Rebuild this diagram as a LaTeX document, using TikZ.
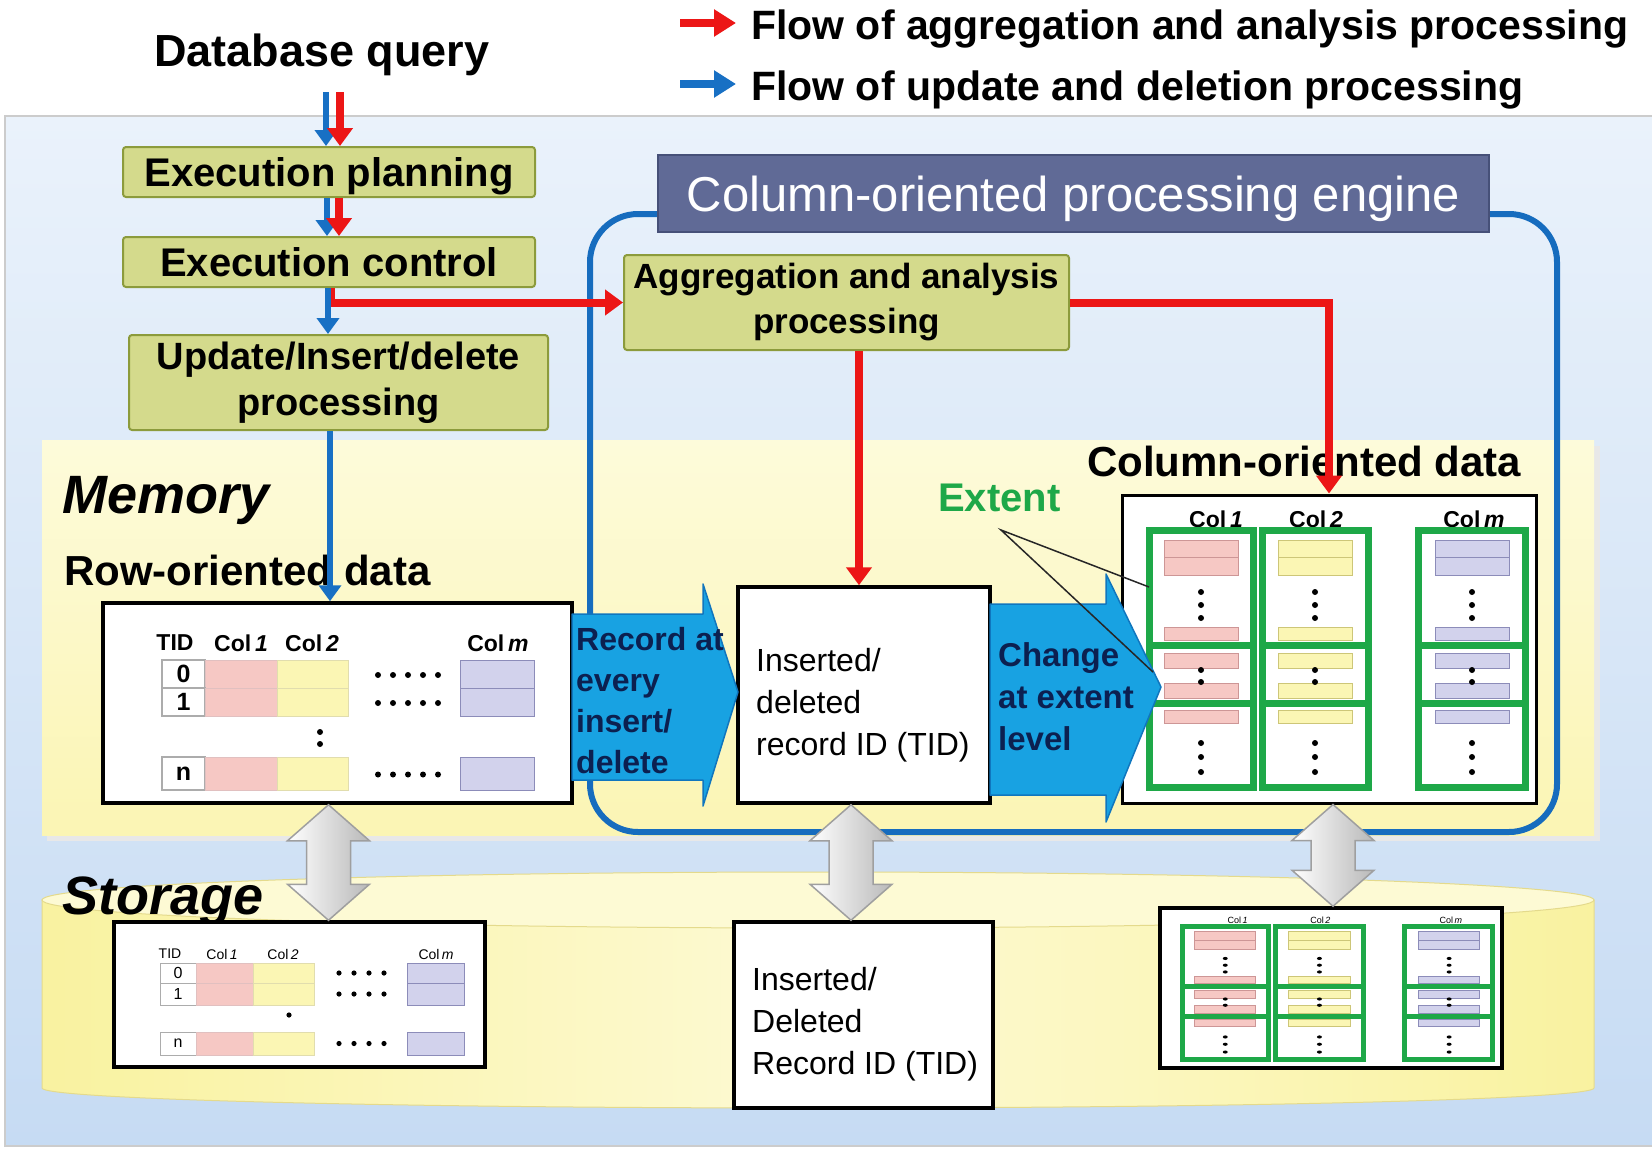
\documentclass[tikz,border=0pt]{standalone}
\usepackage{fontspec}
\setmainfont{Liberation Sans}
\usetikzlibrary{arrows.meta,calc}
\definecolor{olive}{RGB}{212,218,140}
\definecolor{oliveb}{RGB}{140,155,60}
\definecolor{hdr}{RGB}{96,106,150}
\definecolor{hdrb}{RGB}{70,80,120}
\definecolor{eng}{RGB}{22,108,190}
\definecolor{flowred}{RGB}{236,22,22}
\definecolor{flowblue}{RGB}{24,112,196}
\definecolor{cyanar}{RGB}{24,162,226}
\definecolor{cyanarb}{RGB}{16,118,190}
\definecolor{navy}{RGB}{12,32,80}
\definecolor{pinkc}{RGB}{246,200,196}
\definecolor{pinkb}{RGB}{205,150,150}
\definecolor{yelc}{RGB}{251,246,180}
\definecolor{yelb}{RGB}{205,198,120}
\definecolor{lavc}{RGB}{210,210,236}
\definecolor{lavb}{RGB}{140,140,185}
\definecolor{extgreen}{RGB}{30,168,72}
\definecolor{bgtop}{RGB}{234,242,251}
\definecolor{bgbot}{RGB}{198,219,243}
\definecolor{memtop}{RGB}{253,251,218}
\definecolor{membot}{RGB}{251,245,180}
\definecolor{cylbody}{RGB}{249,242,160}
\definecolor{cyltop}{RGB}{253,250,212}
\definecolor{cylb}{RGB}{228,218,140}
\tikzset{
  olivebox/.style={draw=oliveb, line width=2pt, fill=olive, rounded corners=3pt, inner sep=0pt},
  whitebox/.style={draw=black, line width=3.5pt, fill=white, inner sep=0pt},
  redflow/.style={draw=flowred, line width=8pt, -{Triangle[length=18pt,width=25pt]}},
  blueflow/.style={draw=flowblue, line width=6.5pt, -{Triangle[length=16pt,width=22pt]}},
  engline/.style={draw=eng, line width=6pt},
  cyanarrow/.style={fill=cyanar, draw=cyanarb, line width=1.5pt, line join=round},
  dblarr/.style={left color=white, right color=gray!55, draw=gray!75, line width=1.5pt},
  lbl/.style={inner sep=0pt, anchor=base west},
  tabh/.style={inner sep=0pt, font=\bfseries\fontsize{23}{23}\selectfont},
  stabh/.style={inner sep=0pt, font=\fontsize{14}{14}\selectfont},
  arrtext/.style={inner sep=0pt, anchor=north west, align=left, text=navy},
  boxtext/.style={inner sep=0pt, anchor=north west, align=left},
}
\newcommand\grayupdown[2]{\path[dblarr] let \p1=#1, \p2=#2 in
  (\x1,\y1) -- (\x1+41pt,\y1-36pt) -- (\x1+22pt,\y1-36pt) -- (\x1+22pt,\y2+36pt)
  -- (\x1+41pt,\y2+36pt) -- (\x1,\y2) -- (\x1-41pt,\y2+36pt) -- (\x1-22pt,\y2+36pt)
  -- (\x1-22pt,\y1-36pt) -- (\x1-41pt,\y1-36pt) -- cycle;}
\newcommand\colcontents[3]{%
  \foreach \hx/\hl/\hn in {94/1/a,194/2/b,352/m/c}
    \node[inner sep=0pt,font=#2] (#3-\hn) at (\hx,24) {Col\,\textit{\hl}};
  \foreach \cx/\fc/\bc in {79/pinkc/pinkb,193/yelc/yelb,350/lavc/lavb} {
    \foreach \ya/\yb in {45/62,62/80,132/145,158/173,188/203,215/228}
      \path[fill=\fc,draw=\bc,line width=0.8pt] (\cx-37,\ya) rectangle (\cx+37,\yb);
    \foreach \yd in {97,110,123,175,187,248,262,277}
      \fill (\cx,\yd) circle[radius=3pt];
  }
  \foreach \ga/\gb in {27/131,140/246,296/403} {
    \draw[extgreen,line width=#1] (\ga,35) rectangle (\gb,292);
    \draw[extgreen,line width=#1] (\ga,150) -- (\gb,150) (\ga,208) -- (\gb,208);
  }%
}
\begin{document}
\begin{tikzpicture}[x=1pt,y=-1pt]
\useasboundingbox (0,0) rectangle (1652,1149);
\fill[white] (0,0) rectangle (1652,1149);
% background panel
\path[top color=bgtop,bottom color=bgbot] (5,116) rectangle (1652,1146);
\draw[gray!40,line width=2pt] (1652,116) -- (5,116) -- (5,1146) -- (1652,1146);
% memory panel
\fill[black!9] (47,446) rectangle (1600,841);
\path[top color=memtop,bottom color=membot] (42,440) rectangle (1594,835);
% storage cylinder
\path[left color=cylbody, right color=cylbody, middle color=cyltop, draw=cylb, line width=1pt]
  (42,900) -- (42,1088) arc[start angle=180,end angle=360,x radius=776pt,y radius=20pt] -- (1594,900) -- cycle;
\path[fill=cyltop, draw=cylb, line width=1pt] (818,900) ellipse[x radius=776pt, y radius=28pt];

% titles and legend
\node[inner sep=0pt, anchor=base, font=\bfseries\fontsize{45}{54}\selectfont] (dbq) at (322,66) {Database query};
\node[lbl, font=\bfseries\fontsize{41}{50}\selectfont] (leg1) at (751,39) {Flow of aggregation and analysis processing};
\node[lbl, font=\bfseries\fontsize{41}{50}\selectfont] (leg2) at (751,100) {Flow of update and deletion processing};
\coordinate (lr1) at (680,23); \coordinate (lr2) at (736,23);
\coordinate (lb1) at (680,84); \coordinate (lb2) at (736,84);
\draw[redflow, -{Triangle[length=22pt,width=26pt]}] (lr1) -- (lr2);
\draw[blueflow, line width=8pt, -{Triangle[length=22pt,width=26pt]}] (lb1) -- (lb2);

% area labels
\node[lbl, font=\bfseries\itshape\fontsize{54}{60}\selectfont] (mem) at (62,513) {Memory};
\node[lbl, font=\bfseries\fontsize{42}{50}\selectfont] (rowlbl) at (64,585) {Row-oriented data};
\node[lbl, font=\bfseries\itshape\fontsize{54}{60}\selectfont] (stor) at (62,914) {Storage};
\node[lbl, font=\bfseries\fontsize{42}{50}\selectfont] (collbl) at (1087,476) {Column-oriented data};
\node[lbl, text=extgreen, font=\bfseries\fontsize{40}{48}\selectfont] (ext) at (938,511) {Extent};

% engine boundary and header
\draw[engline, rounded corners=48pt] (660,214) -- (590,214) -- (590,832) -- (1557,832) -- (1557,214) -- (1487,214);
\node[fill=hdr, draw=hdrb, line width=1.5pt, minimum width=831pt, minimum height=77pt, inner sep=0pt,
      text=white, text depth=0pt, font=\fontsize{49}{56}\selectfont] (hdr) at (1073.5,193.5) {Column-oriented processing engine};

% processing boxes
\node[olivebox, minimum width=412pt, minimum height=50pt, text depth=0pt, font=\bfseries\fontsize{40}{48}\selectfont] (plan) at (329,172) {Execution planning};
\node[olivebox, minimum width=412pt, minimum height=50pt, text depth=0pt, font=\bfseries\fontsize{40}{48}\selectfont] (ctrl) at (329,262) {Execution control};
\node[olivebox, minimum width=419pt, minimum height=95pt, align=center, font=\bfseries\fontsize{38}{46}\selectfont] (upd) at (338.5,382.5) {Update/Insert/delete\\processing};
\node[olivebox, minimum width=445pt, minimum height=95pt, align=center, font=\bfseries\fontsize{35}{45}\selectfont] (agg) at (846.5,302.5) {Aggregation and analysis\\processing};

% data boxes
\node[whitebox, minimum width=469pt, minimum height=200pt] (row) at (337.5,703) {};
\node[whitebox, minimum width=252pt, minimum height=216pt] (ins) at (864,695) {};
\node[whitebox, line width=3pt, minimum width=414pt, minimum height=308pt] (col) at (1329,649) {};
\node[whitebox, minimum width=371pt, minimum height=145pt] (srow) at (299.5,994.5) {};
\node[whitebox, minimum width=259pt, minimum height=186pt] (sins) at (863.5,1015) {};
\node[whitebox, minimum width=342pt, minimum height=160pt] (scol) at (1331,988) {};

% row-oriented table (memory)
\node[tabh] (h-tid) at (175,643) {TID};
\node[tabh] (h-c1) at (241,643) {Col\,\textit{1}};
\node[tabh] (h-c2) at (312,643) {Col\,\textit{2}};
\node[tabh] (h-cm) at (498,643) {Col\,\textit{m}};
\foreach \ya/\yb/\t in {660/688/0,688/716/1,757/790/n} {
  \path[fill=white,draw=gray!65,line width=1.2pt] (162,\ya) rectangle (205,\yb);
  \path[fill=pinkc,draw=pinkb!60,line width=1pt] (205,\ya) rectangle (277,\yb);
  \path[fill=yelc,draw=yelb!60,line width=1pt] (277,\ya) rectangle (348,\yb);
  \path[fill=lavc,draw=lavb,line width=1pt] (460,\ya) rectangle (534,\yb);
  \node[inner sep=0pt,font=\bfseries\fontsize{25}{25}\selectfont] (tid-\t) at (183.5,{(\ya+\yb)/2}) {\t};
  \foreach \dx in {0,15,30,45,60} \fill ({378+\dx},{(\ya+\yb)/2+1}) circle[radius=3pt];
}
\fill (320,732) circle[radius=3pt] (320,744) circle[radius=3pt];

% row-oriented table (storage)
\node[stabh] (sh-tid) at (170,954) {TID};
\node[stabh] (sh-c1) at (222,954) {Col\,\textit{1}};
\node[stabh] (sh-c2) at (283,954) {Col\,\textit{2}};
\node[stabh] (sh-cm) at (436,954) {Col\,\textit{m}};
\foreach \ya/\yb/\t in {963/983/0,983/1005/1,1032/1055/n} {
  \path[fill=white,draw=gray!65,line width=1pt] (160,\ya) rectangle (196,\yb);
  \path[fill=pinkc,draw=pinkb!60,line width=0.8pt] (196,\ya) rectangle (253,\yb);
  \path[fill=yelc,draw=yelb!60,line width=0.8pt] (253,\ya) rectangle (314,\yb);
  \path[fill=lavc,draw=lavb,line width=0.8pt] (407,\ya) rectangle (464,\yb);
  \node[inner sep=0pt,font=\fontsize{16}{16}\selectfont] (stid-\t) at (178,{(\ya+\yb)/2}) {\t};
  \foreach \dx in {0,15,30,45} \fill ({339+\dx},{(\ya+\yb)/2}) circle[radius=2.6pt];
}
\fill (289,1015) circle[radius=2.6pt];

% column-oriented data
\begin{scope}[shift={(1122,495)}]
  \colcontents{7pt}{\bfseries\fontsize{23}{23}\selectfont}{mc}
\end{scope}
\begin{scope}[shift={(1160,908)}, xscale=0.826, yscale=0.52]
  \colcontents{5pt}{\fontsize{9}{9}\selectfont}{sc}
\end{scope}

% TID box texts
\node[boxtext, font=\fontsize{32}{42}\selectfont] (instext) at (756,648) {Inserted/\\deleted\\record ID (TID)};
\node[boxtext, font=\fontsize{32}{42}\selectfont] (sinstext) at (752,967) {Inserted/\\Deleted\\Record ID (TID)};

% cyan block arrows
\path[cyanarrow] (572,614) -- (703,614) -- (703,584) -- (738,692) -- (703,806) -- (703,780) -- (572,780) -- cycle;
\path[cyanarrow] (990,604) -- (1106,604) -- (1106,574) -- (1161,687) -- (1106,822) -- (1106,795) -- (990,795) -- cycle;
\node[arrtext, font=\bfseries\fontsize{32}{41}\selectfont] (rectext) at (576,627) {Record at\\every\\insert/\\delete};
\node[arrtext, font=\bfseries\fontsize{33}{42}\selectfont] (chgtext) at (998,642) {Change\\at extent\\level};

% extent pointers
\coordinate (extapex) at (1001,530);
\coordinate (ext1) at (1149,587);
\coordinate (ext2) at (1153,672);
\draw[gray!30!black, line width=1.5pt] (ext1) -- (extapex) -- (ext2);

% flows
\draw[blueflow] (326,92) -- ([xshift=-3pt]plan.north);
\draw[redflow] (340,92) -- ([xshift=11pt]plan.north);
\draw[blueflow] ([xshift=-2pt]plan.south) -- ([xshift=-2pt]ctrl.north);
\draw[redflow] ([xshift=10pt]plan.south) -- ([xshift=10pt]ctrl.north);
\draw[redflow] ([xshift=2pt]ctrl.south) |- (agg.west);
\draw[blueflow] ([xshift=-1pt]ctrl.south) -- ([xshift=-1pt]ctrl.south |- upd.north);
\draw[blueflow] ([xshift=-8.5pt]upd.south) -- ([xshift=-8.5pt]upd.south |- row.north);
\draw[redflow] ([xshift=-5pt]ins.north |- agg.south) -- ([xshift=-5pt]ins.north);
\draw[redflow] (agg.east) -| (col.north);

% memory <-> storage
\grayupdown{([xshift=-9pt]row.south)}{(srow.north)}
\grayupdown{([xshift=-13pt]ins.south)}{(sins.north)}
\grayupdown{([xshift=4pt]col.south)}{(scol.north)}
\end{tikzpicture}
\end{document}
